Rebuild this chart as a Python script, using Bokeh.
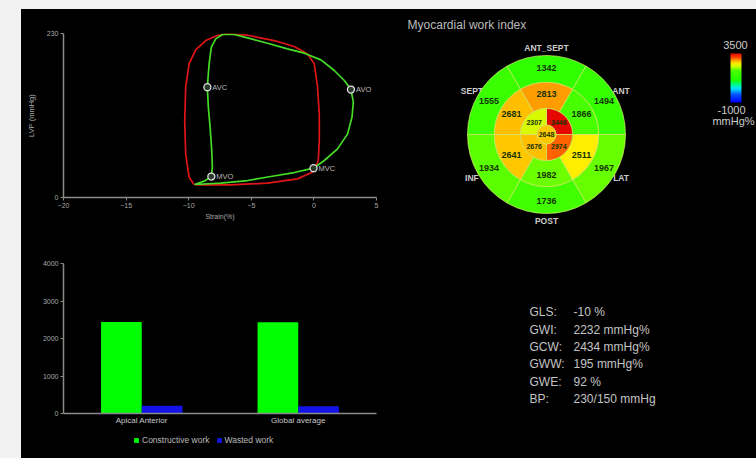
import numpy as np
from bokeh.plotting import figure
from bokeh.models import (Range1d, FixedTicker, LinearColorMapper, Legend, LegendItem,
                          FactorRange, ColumnDataSource, Div)
from bokeh.layouts import row, column
from bokeh.transform import dodge
from bokeh.core.properties import value
from bokeh.embed import file_html
from bokeh.resources import INLINE

FONT = "Liberation Sans"

# ---------------- Strain-pressure loop data ----------------
red_strain = [-9.57, -9.97, -10.24, -10.32, -10.24, -9.97, -9.44, -8.64, -7.71, -6.91, -5.31, -3.17,
              -1.57, -0.51, 0.03, 0.29, 0.43, 0.43, 0.35, 0.03, -1.31, -3.71, -6.64, -9.04, -9.57]
red_lvp = [18.2, 28.5, 61.2, 107.9, 154.7, 187.4, 207.1, 220.1, 227.2, 229.5, 227.6, 220.1,
           211.7, 201.4, 187.4, 154.7, 117.3, 79.9, 51.9, 36.9, 26.1, 20.1, 17.7, 17.7, 18.2]
green_strain = [-0.03, 0.83, 1.89, 2.69, 3.04, 3.15, 2.96, 2.43, 1.63, 0.56, -0.77, -2.11, -3.71,
                -5.31, -6.37, -7.31, -7.84, -8.19, -8.37, -8.51, -8.43, -8.29, -8.16, -8.11, -8.19,
                -8.77, -9.52, -7.44, -5.31, -3.44, -1.57, -0.03]
green_lvp = [41.1, 51.9, 68.2, 89.2, 112.6, 133.7, 151.4, 164.1, 178.1, 193.0, 202.4, 208.5, 216.4,
             223.9, 228.6, 228.6, 222.5, 210.8, 187.4, 154.7, 126.6, 98.6, 65.9, 42.5, 29.4,
             22.9, 18.2, 20.1, 23.8, 29.4, 35.0, 41.1]
event_names = ["AVC", "AVO", "MVO", "MVC"]
event_strain = [-8.51, 2.96, -8.19, -0.03]
event_lvp = [154.7, 151.4, 29.4, 41.1]
strain_ticks = [-20, -15, -10, -5, 0, 5]
lvp_ticks = [0, 230]

# ---------------- Work bars ----------------
bar_categories = ["Apical Anterior", "Global average"]
constructive_work = [2440, 2434]
wasted_work = [205, 195]
work_ticks = [0, 1000, 2000, 3000, 4000]
series_names = ["Constructive work", "Wasted work"]
series_colors = ["#00ff00", "#1414e8"]

# ---------------- Bull's eye ----------------
region_names = ["ANT_SEPT", "ANT", "LAT", "POST", "INF", "SEPT"]
region_angles = [90, 30, 330, 270, 210, 150]
basal_values = [1342, 1494, 1967, 1736, 1934, 1555]
mid_values = [2813, 1866, 2511, 1982, 2641, 2681]
apical_angles = [45, 135, 225, 315]
apical_values = [3446, 2307, 2676, 2974]
apex_value = [2648]
scale_low, scale_high = -1000, 3500
scale_unit = "mmHg%"

stat_names = ["GLS:", "GWI:", "GCW:", "GWW:", "GWE:", "BP:"]
stat_values = ["-10 %", "2232 mmHg%", "2434 mmHg%", "195 mmHg%", "92 %", "230/150 mmHg"]

# ---------------- palette ----------------
stop_pos = [0.0, 0.15, 0.28, 0.38, 0.45, 0.64, 0.72, 0.78, 0.85, 0.92, 1.0]
stop_col = ["#0000ff", "#0050ff", "#00e8ff", "#00ff60", "#20ff00", "#48ff00", "#c8ff00",
            "#ffee00", "#ff9900", "#ff3000", "#e00000"]
rgb = np.array([[int(c[i:i + 2], 16) for i in (1, 3, 5)] for c in stop_col])
tt = np.linspace(0, 1, 256)
palette = ["#%02x%02x%02x" % tuple(int(round(np.interp(t, stop_pos, rgb[:, k]))) for k in range(3))
           for t in tt]
mapper = LinearColorMapper(palette=palette, low=scale_low, high=scale_high)

BG = "black"
GRAY = "#f2f2f2"


def style_axis(ax, size):
    ax.axis_line_color = "#8a8a8a"
    ax.axis_line_width = 1.5
    ax.major_tick_line_color = "#8a8a8a"
    ax.major_tick_out = 3
    ax.major_tick_in = 0
    ax.minor_tick_line_color = None
    ax.major_label_text_color = "#a8a8a8"
    ax.major_label_text_font_size = size
    ax.major_label_text_font = FONT
    ax.major_label_standoff = 2
    ax.axis_label_text_color = "#a8a8a8"
    ax.axis_label_text_font_style = "normal"
    ax.axis_label_text_font = FONT


# ---------------- PV loop figure ----------------
pv = figure(width=379, height=226, x_range=Range1d(-20, 5), y_range=Range1d(0, 230),
            output_backend="svg", toolbar_location=None,
            min_border_left=42, min_border_right=24, min_border_top=24, min_border_bottom=38,
            background_fill_color=BG, border_fill_color=BG, outline_line_color=None)
pv.grid.visible = False
pv.xaxis.ticker = FixedTicker(ticks=strain_ticks)
pv.yaxis.ticker = FixedTicker(ticks=lvp_ticks)
pv.xaxis.axis_label = "Strain(%)"
pv.yaxis.axis_label = "LVP (mmHg)"
style_axis(pv.xaxis[0], "7px")
style_axis(pv.yaxis[0], "7px")
pv.xaxis.axis_label_text_font_size = "7px"
pv.yaxis.axis_label_text_font_size = "7.5px"
pv.xaxis.axis_label_standoff = 2
pv.yaxis.axis_label_standoff = 8

pv.line(red_strain, red_lvp, line_color="#e01515", line_width=1.7)
pv.line(green_strain, green_lvp, line_color="#45dd25", line_width=1.7)
ev = ColumnDataSource(dict(x=event_strain, y=event_lvp, name=event_names))
pv.scatter("x", "y", source=ev, size=7, fill_color="#2a3a2a", line_color="#e0e0e0", line_width=1.3)
pv.text("x", "y", text="name", source=ev, x_offset=5, text_baseline="middle",
        text_font_size="7.5px", text_color="#bbbbbb", text_font=value(FONT))

# ---------------- Bar figure ----------------
bar = figure(width=379, height=193, x_range=FactorRange(factors=bar_categories),
             y_range=Range1d(0, 4000), output_backend="svg", toolbar_location=None,
             min_border_left=36, min_border_right=18, min_border_top=28, min_border_bottom=15,
             background_fill_color=BG, border_fill_color=BG, outline_line_color=None)
bar.grid.visible = False
bar.yaxis.ticker = FixedTicker(ticks=work_ticks)
style_axis(bar.xaxis[0], "8px")
style_axis(bar.yaxis[0], "7px")
bar.xaxis.major_tick_line_color = None
bar.xaxis.major_tick_out = 0
bar.xaxis.major_label_text_color = "#c8c8c8"
bsrc = ColumnDataSource(dict(cat=bar_categories, cw=constructive_work, ww=wasted_work))
bar.vbar(x=dodge("cat", -0.13, range=bar.x_range), top="cw", width=0.26, source=bsrc,
         fill_color=series_colors[0], line_color=None)
bar.vbar(x=dodge("cat", 0.13, range=bar.x_range), top="ww", width=0.26, source=bsrc,
         fill_color=series_colors[1], line_color=None)

# legend strip under the bar chart
leg = figure(width=379, height=30, x_range=Range1d(0, 1), y_range=Range1d(0, 1),
             output_backend="svg", toolbar_location=None, min_border=0,
             x_axis_type=None, y_axis_type=None,
             background_fill_color=BG, border_fill_color=BG, outline_line_color=None)
leg.grid.visible = False
items = []
for name, col in zip(series_names, series_colors):
    r = leg.vbar(x=[-5], top=[-5], bottom=[-6], width=0.1, fill_color=col, line_color=None)
    items.append(LegendItem(label=name, renderers=[r]))
legend = Legend(items=items, orientation="horizontal", location=(70, 13),
                background_fill_alpha=0, border_line_color=None,
                label_text_color="#bbbbbb", label_text_font_size="8.5px", label_text_font=FONT,
                glyph_width=6, glyph_height=6, label_standoff=3, spacing=6, padding=0,
                margin=0, label_height=8)
leg.add_layout(legend)

# ---------------- Bull's eye figure ----------------
bull = figure(width=356, height=449, x_range=Range1d(-1.848, 2.658), y_range=Range1d(-4.101, 1.582),
              output_backend="svg", toolbar_location=None, min_border=0,
              x_axis_type=None, y_axis_type=None,
              background_fill_color=BG, border_fill_color=BG, outline_line_color=None)
bull.grid.visible = False

bull.text(x=[-1.759], y=[1.392], text=["Myocardial work index"], text_baseline="middle",
          text_font_size="12px", text_color="#bbbbbb", text_font=value(FONT))

# region names (drawn first, partly hidden by the disc)
ra = np.radians(region_angles)
bull.text(x=list(1.09 * np.cos(ra)), y=list(1.09 * np.sin(ra)), text=region_names,
          text_align="center", text_baseline="middle", text_font_size="8.5px",
          text_font_style="bold", text_color="#cccccc", text_font=value(FONT))


def ring(values, centers, half, r_in, r_out, r_lab):
    c = np.array(centers, dtype=float)
    src = ColumnDataSource(dict(val=values, start=list(np.radians(c - half)),
                                end=list(np.radians(c + half)),
                                lx=list(r_lab * np.cos(np.radians(c))),
                                ly=list(r_lab * np.sin(np.radians(c))),
                                lab=[str(v) for v in values]))
    bull.annular_wedge(x=0, y=0, inner_radius=r_in, outer_radius=r_out, start_angle="start",
                       end_angle="end", source=src,
                       fill_color={"field": "val", "transform": mapper},
                       line_color="#d8f070", line_alpha=0.7, line_width=1)
    return src


s1 = ring(basal_values, region_angles, 30, 0.66, 1.0, 0.84)
s2 = ring(mid_values, region_angles, 30, 0.33, 0.66, 0.51)
s3 = ring(apical_values, apical_angles, 45, 0.12, 0.33, 0.22)
asrc = ColumnDataSource(dict(val=apex_value, x=[0], y=[0], lab=[str(v) for v in apex_value]))
bull.circle(x="x", y="y", radius=0.12, source=asrc,
            fill_color={"field": "val", "transform": mapper},
            line_color="#d8f070", line_alpha=0.7, line_width=1)

for s, fs in ((s1, "9px"), (s2, "9px"), (s3, "7px")):
    bull.text(x="lx", y="ly", text="lab", source=s, text_align="center", text_baseline="middle",
              text_font_size=fs, text_font_style="bold", text_color="#143300",
              text_font=value(FONT))
bull.text(x="x", y="y", text="lab", source=asrc, text_align="center", text_baseline="middle",
          text_font_size="7px", text_font_style="bold", text_color="#143300", text_font=value(FONT))

# colour scale
grad = np.linspace(scale_low, scale_high, 128).reshape(-1, 1)
bull.image(image=[grad], x=2.329, y=0.405, dw=0.139, dh=0.62, color_mapper=mapper)
bull.text(x=[2.392], y=[1.127], text=[str(scale_high)], text_align="center", text_baseline="middle",
          text_font_size="11px", text_color="#cccccc", text_font=value(FONT))
bull.text(x=[2.342], y=[0.304], text=[str(scale_low)], text_align="center", text_baseline="middle",
          text_font_size="11px", text_color="#cccccc", text_font=value(FONT))
bull.text(x=[2.10], y=[0.165], text=[scale_unit], text_align="left", text_baseline="middle",
          text_font_size="11px", text_color="#cccccc", text_font=value(FONT))

# global statistics
y0, dy = -2.253, 0.2185
ys = [y0 - i * dy for i in range(len(stat_names))]
bull.text(x=[-0.215] * len(stat_names), y=ys, text=stat_names, text_baseline="middle",
          text_font_size="12px", text_color="#c4c4c4", text_font=value(FONT))
bull.text(x=[0.342] * len(stat_values), y=ys, text=stat_values, text_baseline="middle",
          text_font_size="12px", text_color="#c4c4c4", text_font=value(FONT))

top_gray = Div(width=756, height=9, margin=0, styles={"background-color": GRAY})
left_gray = Div(width=21, height=449, margin=0, styles={"background-color": GRAY})
left = column(pv, bar, leg, spacing=0, styles={"background-color": BG})
body = row(left_gray, left, bull, spacing=0, styles={"background-color": BG})
layout = column(top_gray, body, spacing=0)

open("out.html", "w").write(file_html(layout, INLINE))
